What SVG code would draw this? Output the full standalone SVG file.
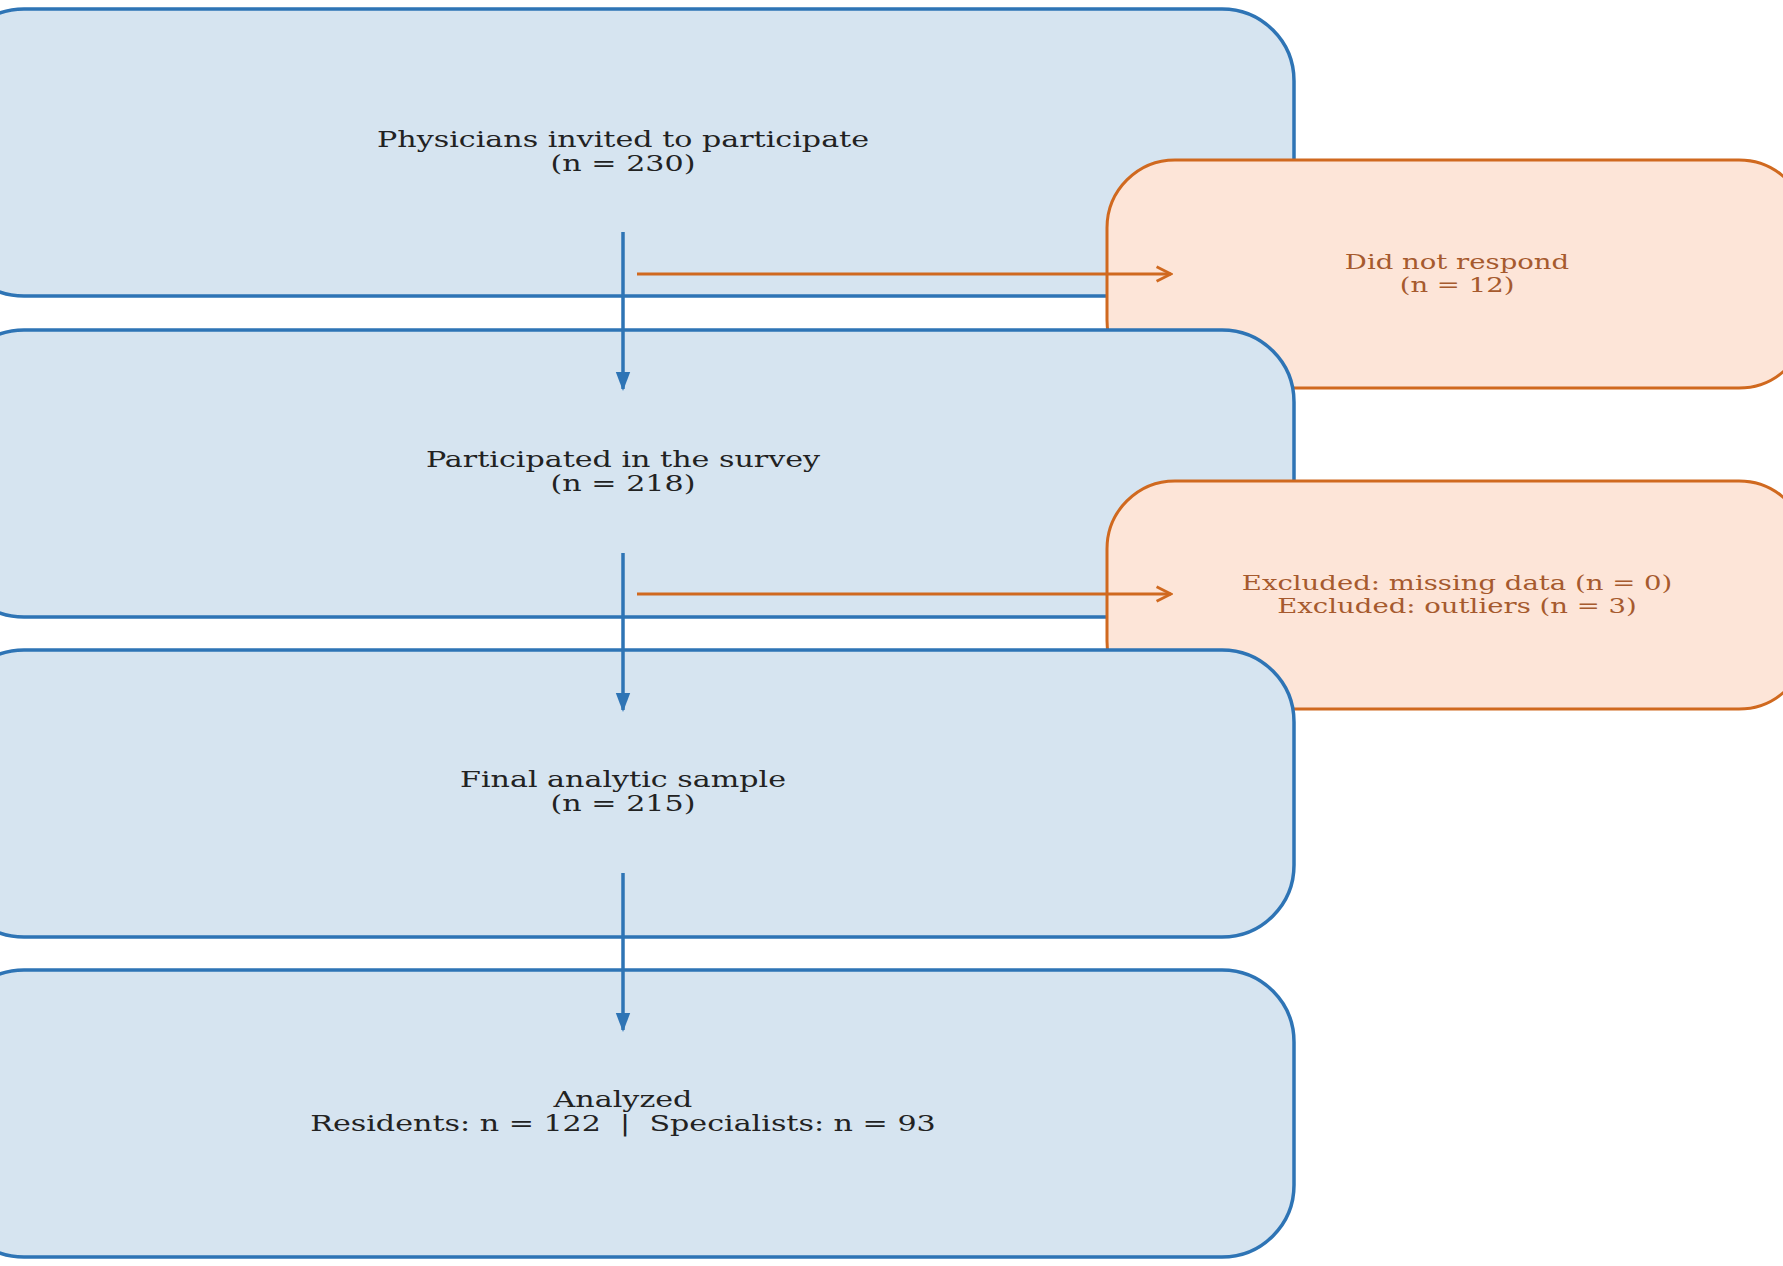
<svg xmlns="http://www.w3.org/2000/svg" width="1783" height="1266" viewBox="0 0 1783 1266">
<defs>
<style>
.main rect{fill:#d6e4f0;stroke:#2e74b5;stroke-width:3.5}
.excl rect{fill:#fde5d8;stroke:#d0691f;stroke-width:3}
.main text{font-family:"DejaVu Serif",serif;font-size:23px;fill:#222;text-anchor:middle}
.excl text{font-family:"DejaVu Serif",serif;font-size:21px;fill:#a65a2e;text-anchor:middle}
.down{stroke:#2e74b5;stroke-width:3.5;fill:none}
.side{stroke:#d0691f;stroke-width:3;fill:none}
</style>
<marker id="ab" viewBox="0 0 10 10" refX="9" refY="5" markerWidth="5.5" markerHeight="5.5" orient="auto" markerUnits="strokeWidth">
<path d="M0,1.2 L10,5 L0,8.8 Z" fill="#2e74b5"/>
</marker>
<marker id="ao" viewBox="0 0 10 10" refX="9" refY="5" markerWidth="6" markerHeight="6" orient="auto" markerUnits="strokeWidth">
<path d="M1,1 L9,5 L1,9" fill="none" stroke="#d0691f" stroke-width="1.6"/>
</marker>
</defs>
<rect width="1783" height="1266" fill="#fff"/>
<g id="n1" class="main">
<rect x="-48" y="9" width="1342" height="287" rx="72" ry="72"/>
<g transform="translate(623 0) scale(1.31 1)">
<text x="0" y="147">Physicians invited to participate</text>
<text x="0" y="171">(n = 230)</text>
</g>
</g>
<g id="x1" class="excl">
<rect x="1107" y="160" width="700" height="228" rx="68" ry="68"/>
<g transform="translate(1457 0) scale(1.31 1)">
<text x="0" y="269">Did not respond</text>
<text x="0" y="292">(n = 12)</text>
</g>
</g>
<g id="n2" class="main">
<rect x="-48" y="330" width="1342" height="287" rx="72" ry="72"/>
<g transform="translate(623 0) scale(1.31 1)">
<text x="0" y="467">Participated in the survey</text>
<text x="0" y="491">(n = 218)</text>
</g>
</g>
<g id="x2" class="excl">
<rect x="1107" y="481" width="700" height="228" rx="68" ry="68"/>
<g transform="translate(1457 0) scale(1.31 1)">
<text x="0" y="590">Excluded: missing data (n = 0)</text>
<text x="0" y="613">Excluded: outliers (n = 3)</text>
</g>
</g>
<g id="n3" class="main">
<rect x="-48" y="650" width="1342" height="287" rx="72" ry="72"/>
<g transform="translate(623 0) scale(1.31 1)">
<text x="0" y="787">Final analytic sample</text>
<text x="0" y="811">(n = 215)</text>
</g>
</g>
<g id="n4" class="main">
<rect x="-48" y="970" width="1342" height="287" rx="72" ry="72"/>
<g transform="translate(623 0) scale(1.31 1)">
<text x="0" y="1107">Analyzed</text>
<text x="0" y="1131" xml:space="preserve">Residents: n = 122  |  Specialists: n = 93</text>
</g>
</g>
<g id="connectors">
<line class="down" x1="623" y1="232" x2="623" y2="389" marker-end="url(#ab)"/>
<line class="down" x1="623" y1="553" x2="623" y2="710" marker-end="url(#ab)"/>
<line class="down" x1="623" y1="873" x2="623" y2="1030" marker-end="url(#ab)"/>
<line class="side" x1="637" y1="274" x2="1171" y2="274" marker-end="url(#ao)"/>
<line class="side" x1="637" y1="594" x2="1171" y2="594" marker-end="url(#ao)"/>
</g>
</svg>
